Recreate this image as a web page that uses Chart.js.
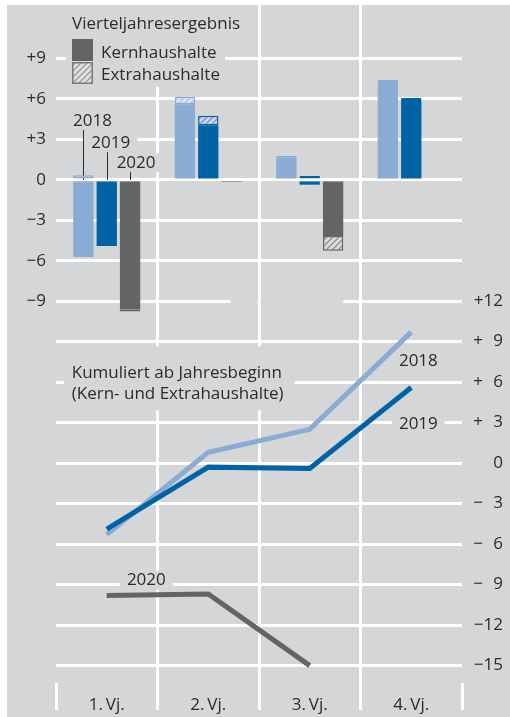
<!DOCTYPE html>
<html>
<head>
<meta charset="utf-8">
<script src="https://cdn.jsdelivr.net/npm/chart.js@4"></script>
<style>
  html, body { margin: 0; padding: 0; background: #fff; }
  #wrap { position: absolute; left: 7px; top: 5px; width: 503px; height: 712px; background: #d5d6d8; }
</style>
</head>
<body>
<div id="wrap"><canvas id="chart"></canvas></div>
<script>
// Quarters and years
const quarters = ['1.\u2009Vj.', '2.\u2009Vj.', '3.\u2009Vj.', '4.\u2009Vj.'];
const years = ['2018', '2019', '2020'];

// Quarterly result, core budgets (Kernhaushalte), bn
const kern2018 = [-5.7, 5.6, 1.65, 7.25];
const kern2019 = [-4.9, 4.05, -0.35, 5.85];
const kern2020 = [-9.6, -0.15, -4.15, null];

// Quarterly result, off-budget entities (Extrahaushalte)
const extra2018 = [0.35, 0.55, 0.12, 0.15];
const extra2019 = [0, 0.7, 0.3, 0.22];
const extra2020 = [-0.15, 0, -1.1, null];

// Cumulative since start of year
const cum2018 = [-5.3, 0.8, 2.5, 9.7];
const cum2019 = [-4.9, -0.3, -0.4, 5.6];
const cum2020 = [-9.8, -9.7, -15.0, null];

// Tick values
const barTicks = [9, 6, 3, 0, -3, -6, -9];
const lineTicks = [12, 9, 6, 3, 0, -3, -6, -9, -12, -15];

const colors = { '2018': '#8aabd3', '2019': '#0063a5', '2020': '#636466' };
const bgGray = '#d5d6d8';
const textColor = '#2b2b2b';
const fontFamily = '"Open Sans", sans-serif';

// diagonal hatch for the Extrahaushalte parts
function hatch(stripe, bg) {
    const p = document.createElement('canvas');
    p.width = 6;
    p.height = 6;
    const g = p.getContext('2d');
    g.fillStyle = bg;
    g.fillRect(0, 0, 6, 6);
    g.strokeStyle = stripe;
    g.lineWidth = 1.3;
    g.beginPath();
    g.moveTo(-1, 7); g.lineTo(7, -1);
    g.moveTo(-1, 1); g.lineTo(1, -1);
    g.moveTo(5, 7); g.lineTo(7, 5);
    g.stroke();
    return g.createPattern(p, 'repeat');
}
const hatches = {
    '2018': hatch('#aec3de', '#dfe5ee'),
    '2019': hatch('#6b97c4', '#cdd6e2'),
    '2020': hatch('#8e8e90', '#dcdcdd')
};
const legendHatch = hatch('#9a9a9c', '#e0e0e1');

// "+12", "+ 9", "0", "− 3" ...
function signed(v, pad) {
    if (v === 0) return '0';
    const s = v > 0 ? '+' : '\u2212';
    const n = Math.abs(v);
    return s + (pad && n < 10 ? '\u2002\u200a' : '') + n;
}

const kernData = { '2018': kern2018, '2019': kern2019, '2020': kern2020 };
const extraData = { '2018': extra2018, '2019': extra2019, '2020': extra2020 };
const cumData = { '2018': cum2018, '2019': cum2019, '2020': cum2020 };

const datasets = [];
years.forEach(y => {
    datasets.push({
        type: 'bar', label: 'Kern ' + y, data: kernData[y], stack: y,
        yAxisID: 'yBar', backgroundColor: colors[y], borderWidth: 0, order: 3
    });
});
years.forEach(y => {
    datasets.push({
        type: 'bar', label: 'Extra ' + y, data: extraData[y], stack: y,
        yAxisID: 'yBar', backgroundColor: hatches[y], borderColor: colors[y],
        borderWidth: 1.5, borderSkipped: false, order: 4
    });
});
// 2019 line on top of 2018
const lineOrder = { '2018': 1, '2019': 0, '2020': 0 };
years.forEach(y => {
    datasets.push({
        type: 'line', label: 'Kumuliert ' + y, data: cumData[y], yAxisID: 'yLine',
        borderColor: colors[y], borderWidth: 5, pointRadius: 0, fill: false,
        tension: 0, order: lineOrder[y]
    });
});

// text boxes (gray background so they break the grid), legend, leaders
const annotations = {
    id: 'annotations',
    beforeDatasetsDraw(chart) {
        const ctx = chart.ctx;
        const area = chart.chartArea;
        const x = chart.scales.x;
        const yBar = chart.scales.yBar;
        const yLine = chart.scales.yLine;
        ctx.save();

        // gap in the shared -9 / +12 grid line
        const gy = yBar.getPixelForValue(-9);
        ctx.fillStyle = bgGray;
        ctx.fillRect(x.getPixelForValue(1.22), gy - 2, x.getPixelForValue(2.33) - x.getPixelForValue(1.22), 4);
        ctx.fillStyle = '#fff';
        const vx = x.getPixelForValue(1.5);
        ctx.fillRect(vx - 1.5, gy - 2, 3, 4);

        function label(text, cx, by, size, align) {
            ctx.font = size + 'px ' + fontFamily;
            ctx.textAlign = align || 'center';
            ctx.textBaseline = 'alphabetic';
            const w = ctx.measureText(text).width;
            const left = align === 'left' ? cx : cx - w / 2;
            ctx.fillStyle = bgGray;
            ctx.fillRect(left - 7, by - size * 0.85, w + 14, size * 1.1);
            ctx.fillStyle = textColor;
            ctx.fillText(text, cx, by);
        }

        // legend
        const lx = area.left + 16;
        ctx.fillStyle = bgGray;
        ctx.fillRect(area.left + 10, area.top, 159, 82);
        ctx.fillStyle = textColor;
        ctx.font = '17px ' + fontFamily;
        ctx.textAlign = 'left';
        ctx.textBaseline = 'alphabetic';
        ctx.fillText('Vierteljahresergebnis', lx, area.top + 24);
        ctx.fillStyle = colors['2020'];
        ctx.fillRect(lx, area.top + 34, 21, 22);
        ctx.fillStyle = legendHatch;
        ctx.fillRect(lx, area.top + 57, 21, 22);
        ctx.strokeStyle = '#7a7a7c';
        ctx.lineWidth = 1.5;
        ctx.strokeRect(lx + 0.75, area.top + 57.75, 19.5, 20.5);
        ctx.fillStyle = textColor;
        ctx.fillText('Kernhaushalte', lx + 29, area.top + 53);
        ctx.fillText('Extrahaushalte', lx + 29, area.top + 75);

        // year labels with leader lines on the first quarter
        const labelY = [4.0, 2.35, 0.9];
        const labelDx = [9, 4, 6];
        years.forEach((y, i) => {
            const bar = chart.getDatasetMeta(i).data[0];
            const bx = bar.x;
            const top = yBar.getPixelForValue(Math.max(0, (kernData[y][0] || 0) + Math.max(0, extraData[y][0] || 0)));
            const by = yBar.getPixelForValue(labelY[i]);
            label(y, bx + labelDx[i], by, 17);
            ctx.strokeStyle = textColor;
            ctx.lineWidth = 1;
            ctx.beginPath();
            ctx.moveTo(Math.round(bx) + 0.5, by + 4);
            ctx.lineTo(Math.round(bx) + 0.5, top);
            ctx.stroke();
        });

        // cumulative block title
        const kx = x.getPixelForValue(-0.345);
        const k1 = yLine.getPixelForValue(6.3);
        const k2 = yLine.getPixelForValue(4.75);
        ctx.fillStyle = bgGray;
        ctx.fillRect(kx - 8, yLine.getPixelForValue(8.65), 231, 64);
        ctx.fillStyle = textColor;
        ctx.font = '17px ' + fontFamily;
        ctx.textAlign = 'left';
        ctx.fillText('Kumuliert ab Jahresbeginn', kx, k1);
        ctx.fillText('(Kern- und Extrahaushalte)', kx, k2);

        // line labels
        label('2018', x.getPixelForValue(3.07), yLine.getPixelForValue(7.2), 17);
        label('2019', x.getPixelForValue(3.07), yLine.getPixelForValue(2.5), 17);
        label('2020', x.getPixelForValue(0.39), yLine.getPixelForValue(-9.05), 17);

        ctx.restore();
    }
};

const tickFont = { family: fontFamily, size: 17 };

new Chart(document.getElementById('chart'), {
    type: 'bar',
    data: { labels: quarters, datasets: datasets },
    options: {
        responsive: true,
        maintainAspectRatio: false,
        animation: false,
        events: [],
        layout: { padding: { left: 0, top: 0, bottom: 0, right: 7 } },
        categoryPercentage: 0.69,
        barPercentage: 0.87,
        plugins: { legend: { display: false }, tooltip: { enabled: false } },
        scales: {
            x: {
                stacked: true,
                offset: true,
                border: { display: false },
                grid: {
                    offset: true,
                    lineWidth: 3,
                    color: c => (c.index === undefined || c.index === 0) ? 'rgba(0,0,0,0)' : '#fff',
                    tickColor: '#fff',
                    tickWidth: 3,
                    tickLength: 27
                },
                ticks: { color: textColor, font: { family: fontFamily, size: 17 }, padding: -15 },
                afterFit: s => { s.height = 34; s.paddingLeft = 0; s.paddingRight = 0; }
            },
            yBar: {
                position: 'left',
                stacked: true,
                min: -37.26,
                max: 12.96,
                border: { display: false },
                grid: { color: '#fff', lineWidth: 3, drawTicks: false },
                afterBuildTicks: s => { s.ticks = barTicks.map(v => ({ value: v })); },
                ticks: { color: textColor, font: tickFont, padding: 10, callback: v => signed(v, false) },
                afterFit: s => { s.width = 49; s.paddingTop = 0; s.paddingBottom = 0; }
            },
            yLine: {
                position: 'right',
                min: -16.29,
                max: 33.93,
                border: { display: false },
                grid: { color: '#fff', lineWidth: 3, drawTicks: false },
                afterBuildTicks: s => { s.ticks = lineTicks.map(v => ({ value: v })); },
                ticks: { color: textColor, font: tickFont, padding: 6, crossAlign: 'far', callback: v => signed(v, true) },
                afterFit: s => { s.width = 41; s.paddingTop = 0; s.paddingBottom = 0; }
            }
        }
    },
    plugins: [annotations]
});
</script>
</body>
</html>
